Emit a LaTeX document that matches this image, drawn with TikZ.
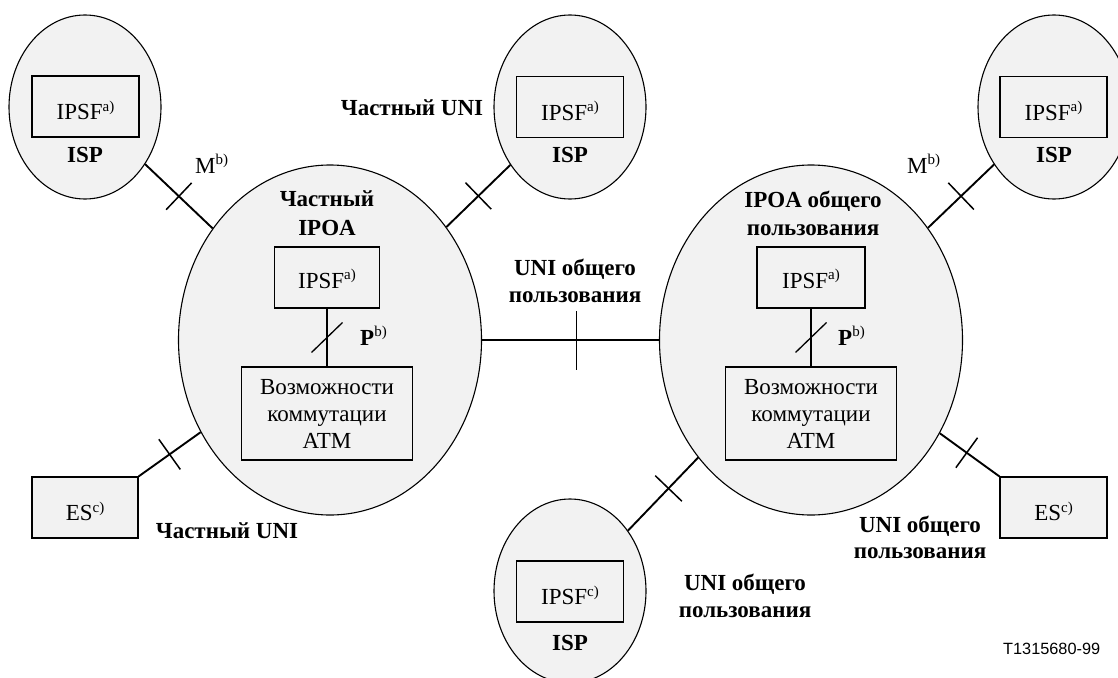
\documentclass[tikz,border=0pt]{standalone}
\usepackage{fontspec}
\setmainfont{Liberation Serif}
\newfontfamily\figsans{Liberation Sans}
\usetikzlibrary{shapes.geometric,decorations.markings}
\definecolor{cloudfill}{RGB}{242,242,242}
% raised footnote marker such as a), b), c)
\newcommand\supnote[1]{\raisebox{8.5pt}{\fontsize{15}{15}\selectfont\mdseries #1}}

\begin{document}
\begin{tikzpicture}[x=1pt,y=-1pt,
  every node/.style={font=\fontsize{23}{27}\selectfont, inner sep=0pt},
  cloudshape/.style={ellipse, draw, line width=1.1pt, fill=cloudfill},
  ispcloud/.style={cloudshape, minimum width=152pt, minimum height=184pt},
  ipoacloud/.style={cloudshape, minimum width=303pt, minimum height=350pt},
  fbox/.style={rectangle, draw, line width=1.1pt, fill=cloudfill,
               minimum width=#1, minimum height=61pt, text height=26pt, text depth=0pt},
  inbox/.style={fbox=#1, text height=21pt},
  swbox/.style={rectangle, draw, line width=1.1pt, fill=cloudfill,
                minimum width=171pt, minimum height=93pt, align=center},
  title/.style={font=\fontsize{23}{27}\selectfont\bfseries, anchor=base},
  plain/.style={anchor=base west},
  link/.style={line width=1.9pt},
  crossmark/.style n args={2}{postaction={decorate,decoration={markings,
      mark=at position #1 with {\draw[line width=1.5pt] (0,-#2) -- (0,#2);}}}},
  slashmark/.style={postaction={decorate,decoration={markings,
      mark=at position 0.5 with {\draw[line width=1.3pt] (15pt,-15.5pt) -- (-15pt,15.5pt);}}}}
]
\useasboundingbox (0,0) rectangle (1118,677);

% ISP domains and the two IPOA domains
\node[ispcloud] (ispTL) at (85,107) {};
\node[ispcloud] (ispTM) at (570,107) {};
\node[ispcloud] (ispTR) at (1054,107) {};
\node[ispcloud] (ispB)  at (570,591) {};
\node[ipoacloud] (ipoaL) at (330,340) {};
\node[ipoacloud] (ipoaR) at (811,340) {};

% functional boxes
\node[fbox=107pt] (ipsfTL) at (85.5,106.5) {IPSF\supnote{a)}};
\node[fbox=107pt] (ipsfTM) at (570,107) {IPSF\supnote{a)}};
\node[fbox=107pt] (ipsfTR) at (1053.5,107) {IPSF\supnote{a)}};
\node[fbox=107pt] (ipsfB)  at (570,591.5) {IPSF\supnote{c)}};
\node[inbox=105pt] (ipsfL) at (327,277.5) {IPSF\supnote{a)}};
\node[inbox=108pt] (ipsfR) at (811,277.5) {IPSF\supnote{a)}};
\node[swbox] (swL) at (327,413.5) {Возможности\\коммутации\\ATM};
\node[swbox] (swR) at (811,413.5) {Возможности\\коммутации\\ATM};
\node[fbox=106pt] (esL) at (85,507.5) {ES\supnote{c)}};
\node[fbox=107pt] (esR) at (1053.5,507.5) {ES\supnote{c)}};

% ISP captions
\node[title] (ispTLcap) at (85,162) {ISP};
\node[title] (ispTMcap) at (570,162) {ISP};
\node[title] (ispTRcap) at (1054,162) {ISP};
\node[title] (ispBcap)  at (570,650) {ISP};

% domain titles
\node[title] (ipoaLt1) at (327,206) {Частный};
\node[title] (ipoaLt2) at (327,235) {IPOA};
\node[title] (ipoaRt1) at (813,207) {IPOA общего};
\node[title] (ipoaRt2) at (813,235) {пользования};

% interface labels
\node[title] (uniTop)  at (412,115) {Частный UNI};
\node[title] (uniBL)   at (227,538) {Частный UNI};
\node[title] (uniMid1) at (575,275) {UNI общего};
\node[title] (uniMid2) at (575,302) {пользования};
\node[title] (uniBR1)  at (920,532) {UNI общего};
\node[title] (uniBR2)  at (920,558) {пользования};
\node[title] (uniBM1)  at (745,590) {UNI общего};
\node[title] (uniBM2)  at (745,617) {пользования};
\node[plain] (mL) at (195,173) {M\supnote{b)}};
\node[plain] (mR) at (907,173) {M\supnote{b)}};
\node[plain] (pL) at (360,345) {\textbf{P}\supnote{b)}};
\node[plain] (pR) at (838,345) {\textbf{P}\supnote{b)}};
\node[plain, font=\figsans\fontsize{16.3}{18}\selectfont] (figid) at (1003,654) {T1315680-99};

% interfaces
\draw[link, crossmark={0.5}{18.5pt}] (ispTL) -- (ipoaL);
\draw[link, crossmark={0.5}{18.5pt}] (ispTM) -- (ipoaL);
\draw[link, crossmark={0.5}{18.5pt}] (ispTR) -- (ipoaR);
\draw[link, crossmark={0.5}{18.5pt}] (esL.north east) -- (ipoaL);
\draw[link, crossmark={0.55}{18.5pt}] (esR.north west) -- (ipoaR);
\draw[link, crossmark={0.58}{18.5pt}] (ispB) -- (ipoaR);
\draw[link, crossmark={0.534}{29.5pt}] (ipoaL) -- (ipoaR);
\draw[link, slashmark] (ipsfL) -- (swL);
\draw[link, slashmark] (ipsfR) -- (swR);
\end{tikzpicture}
\end{document}
